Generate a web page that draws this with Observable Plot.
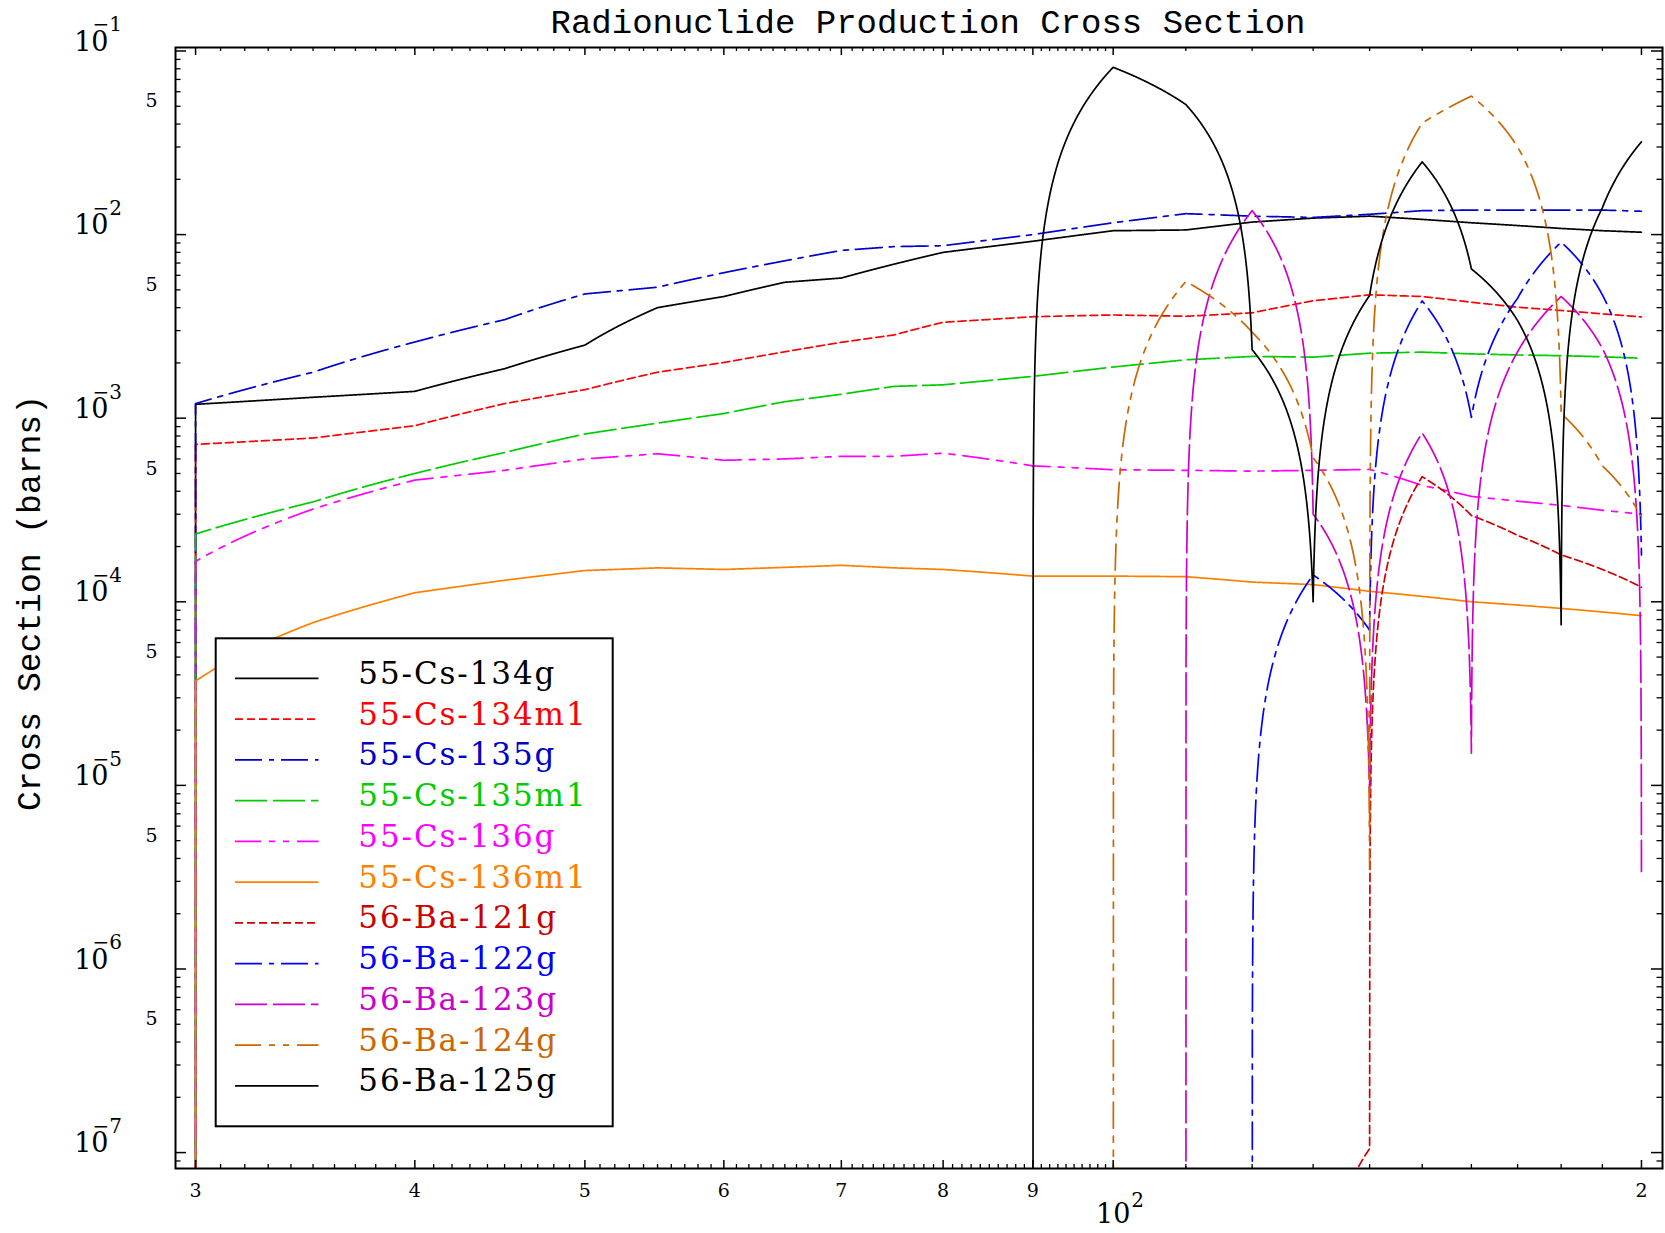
<!DOCTYPE html>
<html>
<head>
<meta charset="utf-8">
<script src="https://cdn.jsdelivr.net/npm/d3@7"></script>
<script src="https://cdn.jsdelivr.net/npm/@observablehq/plot@0.6"></script>
<style>
  html, body { margin: 0; padding: 0; background: #fff; }
  svg { display: block; }
</style>
</head>
<body>
<div id="chart"></div>
<script>
// ---------------- data ----------------
const energies = [30, 35, 40, 45, 50, 55, 60, 65, 70, 75, 80, 90, 100, 110, 120, 130, 140, 150, 160, 170, 180, 190, 200];

const cs134g  = [1.19e-3, 1.30e-3, 1.40e-3, 1.86e-3, 2.50e-3, 4.0e-3, 4.6e-3, 5.5e-3, 5.8e-3, 6.9e-3, 8.0e-3, 9.2e-3, 1.05e-2, 1.06e-2, 1.17e-2, 1.23e-2, 1.26e-2, 1.21e-2, 1.16e-2, 1.12e-2, 1.08e-2, 1.05e-2, 1.03e-2];
const cs134m1 = [7.2e-4, 7.8e-4, 9.1e-4, 1.2e-3, 1.43e-3, 1.78e-3, 2.01e-3, 2.3e-3, 2.59e-3, 2.84e-3, 3.33e-3, 3.57e-3, 3.65e-3, 3.59e-3, 3.75e-3, 4.36e-3, 4.70e-3, 4.60e-3, 4.28e-3, 4.02e-3, 3.86e-3, 3.70e-3, 3.56e-3];
const cs135g  = [1.2e-3, 1.78e-3, 2.6e-3, 3.44e-3, 4.75e-3, 5.17e-3, 6.2e-3, 7.2e-3, 8.2e-3, 8.6e-3, 8.7e-3, 1.0e-2, 1.16e-2, 1.30e-2, 1.26e-2, 1.24e-2, 1.29e-2, 1.35e-2, 1.36e-2, 1.36e-2, 1.36e-2, 1.36e-2, 1.34e-2];
const cs135m1 = [2.34e-4, 3.5e-4, 5.0e-4, 6.5e-4, 8.2e-4, 9.4e-4, 1.06e-3, 1.23e-3, 1.35e-3, 1.49e-3, 1.52e-3, 1.69e-3, 1.90e-3, 2.08e-3, 2.17e-3, 2.15e-3, 2.26e-3, 2.29e-3, 2.24e-3, 2.21e-3, 2.19e-3, 2.16e-3, 2.12e-3];
const cs136g  = [1.66e-4, 3.2e-4, 4.6e-4, 5.2e-4, 6.0e-4, 6.4e-4, 5.9e-4, 6.0e-4, 6.2e-4, 6.2e-4, 6.45e-4, 5.5e-4, 5.24e-4, 5.2e-4, 5.15e-4, 5.2e-4, 5.26e-4, 4.3e-4, 3.75e-4, 3.53e-4, 3.35e-4, 3.15e-4, 3.0e-4];
const cs136m1 = [3.7e-5, 7.7e-5, 1.12e-4, 1.31e-4, 1.48e-4, 1.53e-4, 1.50e-4, 1.54e-4, 1.58e-4, 1.53e-4, 1.50e-4, 1.38e-4, 1.38e-4, 1.37e-4, 1.28e-4, 1.24e-4, 1.14e-4, 1.07e-4, 1.0e-4, 9.6e-5, 9.2e-5, 8.8e-5, 8.4e-5];
const ba121g  = [0, 0, 0, 0, 0, 0, 0, 0, 0, 0, 0, 0, 0, 0, 0, 0, 1.05e-7, 4.8e-4, 2.95e-4, 2.3e-4, 1.8e-4, 1.5e-4, 1.2e-4];
const ba122g  = [0, 0, 0, 0, 0, 0, 0, 0, 0, 0, 0, 0, 0, 0, 0, 1.4e-4, 7.0e-5, 4.35e-3, 1.01e-3, 4.5e-3, 9.1e-3, 4.7e-3, 1.8e-4];
const ba123g  = [0, 0, 0, 0, 0, 0, 0, 0, 0, 0, 0, 0, 0, 0, 1.35e-2, 3.0e-4, 9.0e-6, 8.3e-4, 1.5e-5, 2.3e-3, 4.6e-3, 2.4e-3, 3.4e-6];
const ba124g  = [0, 0, 0, 0, 0, 0, 0, 0, 0, 0, 0, 0, 0, 5.55e-3, 2.94e-3, 6.1e-4, 3.5e-6, 4.05e-2, 5.68e-2, 3.0e-2, 1.06e-3, 5.5e-4, 2.9e-4];
const ba125g  = [0, 0, 0, 0, 0, 0, 0, 0, 0, 0, 0, 0, 8.15e-2, 5.11e-2, 2.36e-3, 1.0e-4, 4.66e-3, 2.49e-2, 6.5e-3, 3.4e-3, 7.5e-5, 1.4e-2, 3.2e-2];

const seriesNames  = ["55-Cs-134g", "55-Cs-134m1", "55-Cs-135g", "55-Cs-135m1", "55-Cs-136g", "55-Cs-136m1",
                      "56-Ba-121g", "56-Ba-122g", "56-Ba-123g", "56-Ba-124g", "56-Ba-125g"];
const seriesValues = [cs134g, cs134m1, cs135g, cs135m1, cs136g, cs136m1, ba121g, ba122g, ba123g, ba124g, ba125g];

const titleText  = "Radionuclide Production Cross Section";
const yLabelText = "Cross Section (barns)";

const xMajorTicks  = [30, 40, 50, 60, 70, 80, 90, 100, 200];
const xDigitTicks  = [30, 40, 50, 60, 70, 80, 90, 200];
const xDigitLabels = ["3", "4", "5", "6", "7", "8", "9", "2"];
const xDecadeTicks = [100];
const xDecadeExps  = ["2"];
const yDecadeTicks = [1e-1, 1e-2, 1e-3, 1e-4, 1e-5, 1e-6, 1e-7];
const yDecadeExps  = ["1", "2", "3", "4", "5", "6", "7"];
const yFiveTicks   = [5e-2, 5e-3, 5e-4, 5e-5, 5e-6, 5e-7];
const yFiveLabels  = ["5", "5", "5", "5", "5", "5"];

// ---------------- styles ----------------
const seriesColors = ["#000000", "#ff0000", "#0000cc", "#00cc00", "#ff00ff", "#ff8000",
                      "#cc0000", "#0000ff", "#cc00cc", "#cc6600", "#000000"];
const DASHED = "8,4", DASHDOT = "27,7,5,7", LONGDASH = "32,6", DASHDOTDOT = "26,8,6,8,6,8";
const seriesDashes = [null, DASHED, DASHDOT, LONGDASH, DASHDOTDOT, null,
                      DASHED, DASHDOT, LONGDASH, DASHDOTDOT, null];

// ---------------- layout ----------------
const W = 1665, H = 1233, ML = 175, MR = 3, MT = 47, MB = 65;
const XDOM = [29.22, 205.6], YDOM = [8.19e-8, 0.10449];
const FLOOR = 1e-12; // zero cross section (below threshold)
const plotW = W - ML - MR, plotH = H - MT - MB;

// minor ticks (tick positions only)
const xMinorTicks = [];
for (let d = 30; d < 100; d += 10) for (let m = 1; m <= 9; m++) xMinorTicks.push(d + m);
for (let v = 110; v < 200; v += 10) xMinorTicks.push(v);
const yMinorTicks = [];
for (let e = -8; e <= -1; e++) for (let m = 2; m <= 9; m++) {
  const v = m * Math.pow(10, e);
  if (v > YDOM[0] && v < YDOM[1]) yMinorTicks.push(v);
}

// scales identical to Plot's, used only to interpolate linearly in data space
const xs = d3.scaleLog().domain(XDOM).range([ML, W - MR]);
const ys = d3.scaleLog().domain(YDOM).range([H - MB, MT]);
function linLinCurve(context) {
  let p = null;
  return {
    areaStart() {}, areaEnd() {},
    lineStart() { p = null; },
    lineEnd() { p = null; },
    point(px, py) {
      const q = [xs.invert(px), ys.invert(py)];
      if (p === null) context.moveTo(px, py);
      else {
        const n = 300;
        for (let i = 1; i <= n; i++) {
          const t = i / n;
          context.lineTo(xs(p[0] + (q[0] - p[0]) * t), ys(p[1] + (q[1] - p[1]) * t));
        }
      }
      p = q;
    }
  };
}

// table: each series begins at zero at the first energy (threshold drop)
const tables = seriesValues.map((vals, s) => {
  const rows = [{name: seriesNames[s], x: energies[0], y: 0}];
  vals.forEach((v, i) => rows.push({name: seriesNames[s], x: energies[i], y: v}));
  return rows;
});

const serif = "DejaVu Serif";
const mono = "Liberation Mono";

const marks = [];
tables.forEach((rows, s) => {
  marks.push(Plot.line(rows, {
    x: "x", y: d => Math.max(d.y, FLOOR),
    stroke: seriesColors[s], strokeWidth: 1.7,
    strokeDasharray: seriesDashes[s] || undefined,
    curve: linLinCurve, clip: true
  }));
});

// inward ticks on all four sides
marks.push(
  Plot.tickX(xMajorTicks, {x: d => d, insetTop: plotH - 8, stroke: "black", strokeWidth: 1.5}),
  Plot.tickX(xMinorTicks, {x: d => d, insetTop: plotH - 4, stroke: "black", strokeWidth: 1.3}),
  Plot.tickX(xMajorTicks, {x: d => d, insetBottom: plotH - 8, stroke: "black", strokeWidth: 1.5}),
  Plot.tickX(xMinorTicks, {x: d => d, insetBottom: plotH - 4, stroke: "black", strokeWidth: 1.3}),
  Plot.tickY(yDecadeTicks, {y: d => d, insetRight: plotW - 11, stroke: "black", strokeWidth: 1.5}),
  Plot.tickY(yMinorTicks, {y: d => d, insetRight: plotW - 5.5, stroke: "black", strokeWidth: 1.3}),
  Plot.tickY(yDecadeTicks, {y: d => d, insetLeft: plotW - 11, stroke: "black", strokeWidth: 1.5}),
  Plot.tickY(yMinorTicks, {y: d => d, insetLeft: plotW - 5.5, stroke: "black", strokeWidth: 1.3}),
  Plot.frame({stroke: "black", strokeWidth: 2})
);

// y tick labels
marks.push(
  Plot.text(yDecadeTicks, {y: d => d, frameAnchor: "left", text: () => "10", textAnchor: "end", lineAnchor: "middle",
    dx: -67, dy: -9, fontSize: 27, fontFamily: serif, fill: "black"}),
  Plot.text(yDecadeTicks, {y: d => d, frameAnchor: "left", text: (d, i) => "\u2212" + yDecadeExps[i], textAnchor: "start", lineAnchor: "middle",
    dx: -83, dy: -26, fontSize: 20, fontFamily: serif, fill: "black"}),
  Plot.text(yFiveTicks, {y: d => d, frameAnchor: "left", text: (d, i) => yFiveLabels[i], textAnchor: "middle", lineAnchor: "middle",
    dx: -24, dy: -5, fontSize: 19, fontFamily: serif, fill: "black"})
);
// x tick labels
marks.push(
  Plot.text(xDigitTicks, {x: d => d, frameAnchor: "bottom", text: (d, i) => xDigitLabels[i], lineAnchor: "middle",
    dy: 22, fontSize: 19, fontFamily: serif, fill: "black"}),
  Plot.text(xDecadeTicks, {x: d => d, frameAnchor: "bottom", text: () => "10", lineAnchor: "middle",
    dy: 46, fontSize: 27, fontFamily: serif, fill: "black"}),
  Plot.text(xDecadeTicks, {x: d => d, frameAnchor: "bottom", text: (d, i) => xDecadeExps[i], textAnchor: "start", lineAnchor: "middle",
    dx: 18, dy: 32, fontSize: 20, fontFamily: serif, fill: "black"})
);
// title and y label
marks.push(
  Plot.text([titleText], {frameAnchor: "top", text: d => d, textAnchor: "middle", lineAnchor: "middle",
    dx: 9, dy: -25, fontSize: 34, fontFamily: mono, fill: "black"}),
  Plot.text([yLabelText], {frameAnchor: "left", text: d => d, textAnchor: "middle", lineAnchor: "middle", rotate: -90,
    dx: -146, dy: -5, fontSize: 33, fontFamily: mono, fill: "black"})
);

const chart = Plot.plot({
  width: W, height: H,
  marginLeft: ML, marginRight: MR, marginTop: MT, marginBottom: MB,
  style: {background: "white", overflow: "visible"},
  x: {type: "log", domain: XDOM, axis: null},
  y: {type: "log", domain: YDOM, axis: null},
  marks
});

// legend (inside the frame, white box)
const svg = d3.select(chart);
const lg = svg.append("g").attr("class", "legend");
const LX = 215.7, LY = 638.3, LW = 397, LH = 488;
lg.append("rect").attr("x", LX).attr("y", LY).attr("width", LW).attr("height", LH)
  .attr("fill", "white").attr("stroke", "black").attr("stroke-width", 2);
seriesNames.forEach((name, i) => {
  const yy = 678.3 + 40.75 * i;
  lg.append("line").attr("x1", 235).attr("x2", 318.5).attr("y1", yy).attr("y2", yy)
    .attr("stroke", seriesColors[i]).attr("stroke-width", 1.7)
    .attr("stroke-dasharray", seriesDashes[i] || null);
  lg.append("text").attr("x", 358.3).attr("y", yy - 3)
    .attr("text-anchor", "start").attr("dominant-baseline", "middle")
    .attr("font-family", serif).attr("font-size", 31).attr("letter-spacing", 1.9)
    .attr("fill", seriesColors[i]).text(name);
});

document.getElementById("chart").appendChild(chart);
</script>
</body>
</html>
